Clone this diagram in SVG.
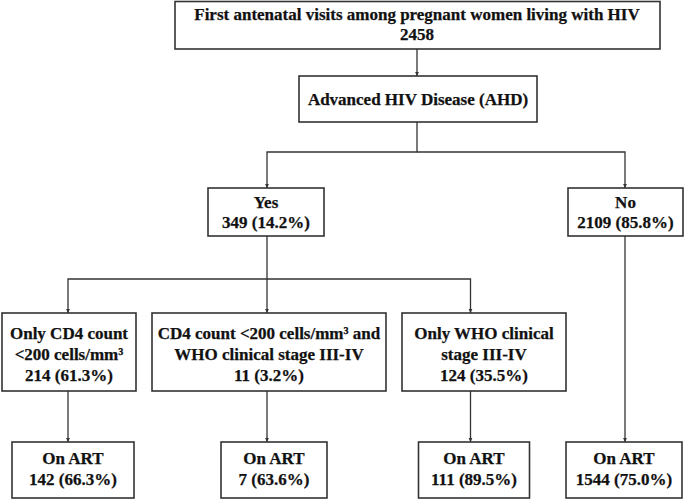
<svg xmlns="http://www.w3.org/2000/svg" width="685" height="500" viewBox="0 0 685 500">
<defs>
<style>
.box{fill:#fff;stroke:#333;stroke-width:1.6}
.t{font-family:"Liberation Serif","Times New Roman",serif;font-weight:bold;font-size:17px;fill:#111;stroke:#111;stroke-width:0.25;text-anchor:middle}
.c{fill:none;stroke:#333;stroke-width:1.3}
</style>
<marker id="ah" markerWidth="5" markerHeight="5" refX="4" refY="2.5" orient="auto" markerUnits="userSpaceOnUse">
<path d="M0,0.6 L4,2.5 L0,4.4 Z" fill="#333"/>
</marker>
</defs>
<rect width="685" height="500" fill="#fff"/>
<g id="connectors">
<path class="c" d="M417,49 V76" marker-end="url(#ah)"/>
<path class="c" d="M417,122 V152 H267 V188" marker-end="url(#ah)"/>
<path class="c" d="M417,152 H625 V188" marker-end="url(#ah)"/>
<path class="c" d="M267,236 V279 H68 V313" marker-end="url(#ah)"/>
<path class="c" d="M267,279 V313" marker-end="url(#ah)"/>
<path class="c" d="M267,279 H470.5 V313" marker-end="url(#ah)"/>
<path class="c" d="M68,391 V442" marker-end="url(#ah)"/>
<path class="c" d="M267,391 V442" marker-end="url(#ah)"/>
<path class="c" d="M470.5,391 V442" marker-end="url(#ah)"/>
<path class="c" d="M625,236 V442" marker-end="url(#ah)"/>
</g>
<g id="n_top">
<rect class="box" x="175" y="1.5" width="485" height="47.5"/>
<text class="t" x="417" y="20">First antenatal visits among pregnant women living with HIV</text>
<text class="t" x="417" y="40">2458</text>
</g>
<g id="n_ahd">
<rect class="box" x="299" y="76" width="238" height="46"/>
<text class="t" x="418" y="105">Advanced HIV Disease (AHD)</text>
</g>
<g id="n_yes">
<rect class="box" x="208" y="188" width="116" height="48"/>
<text class="t" x="266" y="208">Yes</text>
<text class="t" x="266" y="228">349 (14.2%)</text>
</g>
<g id="n_no">
<rect class="box" x="568" y="188" width="115" height="48"/>
<text class="t" x="625.5" y="208">No</text>
<text class="t" x="625.5" y="228">2109 (85.8%)</text>
</g>
<g id="n_cd4">
<rect class="box" x="2" y="313" width="134" height="78"/>
<text class="t" x="69" y="339">Only CD4 count</text>
<text class="t" x="69" y="360">&lt;200 cells/mm³</text>
<text class="t" x="69" y="381">214 (61.3%)</text>
</g>
<g id="n_both">
<rect class="box" x="152" y="313" width="234" height="78"/>
<text class="t" x="269" y="339">CD4 count &lt;200 cells/mm³ and</text>
<text class="t" x="269" y="360">WHO clinical stage III-IV</text>
<text class="t" x="269" y="381">11 (3.2%)</text>
</g>
<g id="n_who">
<rect class="box" x="402" y="313" width="164" height="78"/>
<text class="t" x="484" y="339">Only WHO clinical</text>
<text class="t" x="484" y="360">stage III-IV</text>
<text class="t" x="484" y="381">124 (35.5%)</text>
</g>
<g id="n_art1">
<rect class="box" x="12" y="442" width="122" height="56"/>
<text class="t" x="73" y="464">On ART</text>
<text class="t" x="73" y="485">142 (66.3%)</text>
</g>
<g id="n_art2">
<rect class="box" x="221" y="442" width="106" height="56"/>
<text class="t" x="274" y="464">On ART</text>
<text class="t" x="274" y="485">7 (63.6%)</text>
</g>
<g id="n_art3">
<rect class="box" x="418.5" y="442" width="111" height="56"/>
<text class="t" x="474" y="464">On ART</text>
<text class="t" x="474" y="485">111 (89.5%)</text>
</g>
<g id="n_art4">
<rect class="box" x="566" y="442" width="116" height="56"/>
<text class="t" x="624" y="464">On ART</text>
<text class="t" x="624" y="485">1544 (75.0%)</text>
</g>
</svg>
